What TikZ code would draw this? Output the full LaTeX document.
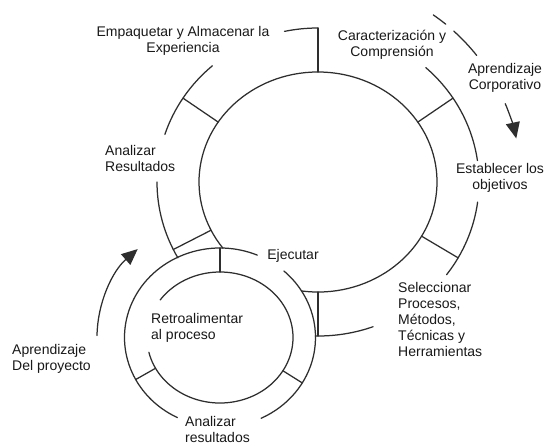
\documentclass[tikz,border=0pt]{standalone}
\usepackage{fontspec}
\setmainfont{Liberation Sans}
\usetikzlibrary{arrows.meta}

% arc of an ellipse: centre, x radius, y radius, start angle, end angle
\newcommand\ringarc[5]{%
  \draw[ring] ([shift={(#4:#2 and #3)}]#1)
    arc[start angle=#4,end angle=#5,x radius=#2,y radius=#3];}
% radial tick between two concentric ellipses: centre, rx1, ry1, rx2, ry2, angle
\newcommand\ringtick[6]{%
  \draw[ring] ([shift={(#6:#2 and #3)}]#1) -- ([shift={(#6:#4 and #5)}]#1);}

\begin{document}
\begin{tikzpicture}[x=1pt,y=1pt,
  ring/.style={line width=1.25pt,draw=black!82,line cap=round},
  flow/.style={ring,-{Triangle[length=16pt,width=14pt]}},
  lbl/.style={font=\fontsize{14}{16}\selectfont,text=black!90,inner sep=0pt},
]
\useasboundingbox[fill=white] (0,0) rectangle (545,-445);

\coordinate (B) at (318,-182);   % corporate cycle
\coordinate (S) at (220,-337.5); % project cycle

% corporate cycle: inner circle
\ringarc{B}{119}{110}{-98}{217}
% corporate cycle: outer ring, broken for the labels
\ringarc{B}{161}{154}{90}{102}
\ringarc{B}{161}{154}{131}{162}
\ringarc{B}{161}{154}{180}{209.5}
\ringarc{B}{161}{154}{48}{8}
\ringarc{B}{161}{154}{-7.5}{-37}
\ringarc{B}{161}{154}{-91}{-70}
% corporate cycle: step dividers
\ringtick{B}{119}{110}{161}{154}{90}
\ringtick{B}{119}{110}{161}{154}{147}
\ringtick{B}{119}{110}{161}{154}{206}
\ringtick{B}{119}{110}{161}{154}{33}
\ringtick{B}{119}{110}{161}{154}{-29.5}
\ringtick{B}{119}{110}{161}{154}{-90}

% project cycle: inner circle and outer ring
\ringarc{S}{73}{65.5}{-167}{145}
\ringarc{S}{95.5}{89.5}{67}{243.5}
\ringarc{S}{95.5}{89.5}{48}{-64.5}
% project cycle: step dividers
\ringtick{S}{73}{65.5}{95.5}{89.5}{90}
\ringtick{S}{73}{65.5}{95.5}{89.5}{-30.5}
\ringtick{S}{73}{65.5}{95.5}{89.5}{208}

% learning arrows
\draw[ring] ([shift={(55.4:203)}]B) arc[start angle=55.4,end angle=51,radius=203];
\draw[ring] ([shift={(48:203)}]B) arc[start angle=48,end angle=38.6,radius=203];
\draw[flow] ([shift={(22.7:203)}]B) arc[start angle=22.7,end angle=12.4,radius=203];
\draw[flow] ([shift={(179:123 and 119)}]S) arc[start angle=179,end angle=132,x radius=123,y radius=119];

% labels
\node[lbl,align=center] (pack) at (183,-41) {Empaquetar y Almacenar la\\Experiencia};
\node[lbl,align=center] (char) at (392,-45) {Caracterización y\\Comprensión};
\node[lbl,align=center] (corp) at (505,-78) {Aprendizaje\\Corporativo};
\node[lbl,align=center] (goals) at (500,-178) {Establecer los\\objetivos};
\node[lbl,align=left,anchor=west] (anaA) at (105,-158) {Analizar\\Resultados};
\node[lbl] (exec) at (293,-256) {Ejecutar};
\node[lbl,align=left,anchor=west] (sel) at (398,-319) {Seleccionar\\Procesos,\\Métodos,\\Técnicas y\\Herramientas};
\node[lbl,align=left,anchor=west] (feed) at (151,-327.5) {Retroalimentar\\al proceso};
\node[lbl,align=left,anchor=west] (proj) at (12,-359) {Aprendizaje\\Del proyecto};
\node[lbl,align=left,anchor=west] (anaB) at (185,-429.5) {Analizar\\resultados};
\end{tikzpicture}
\end{document}
